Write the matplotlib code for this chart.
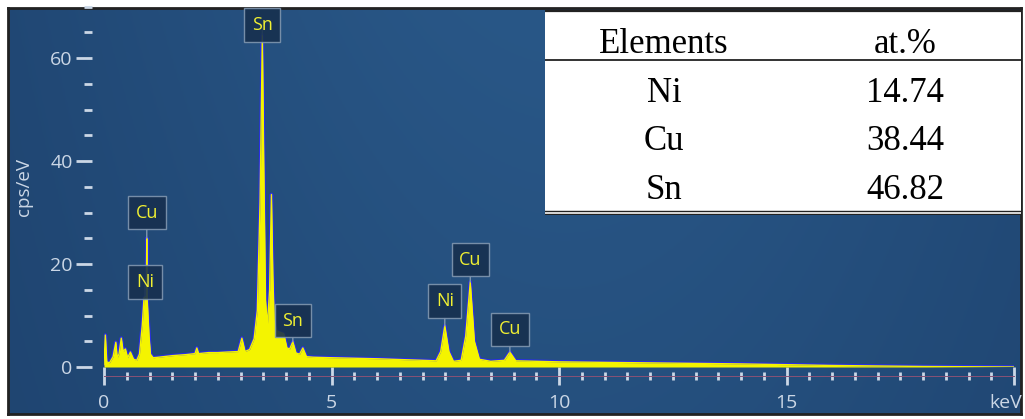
# %%
# =========================
# SETUP
# =========================

import numpy as np
import matplotlib.pyplot as plt
import matplotlib.transforms as mtransforms
from matplotlib.ticker import MultipleLocator, FixedLocator, FixedFormatter

W, H = 1025, 419

# %%
# =========================
# DATI (letti dallo spettro EDS)
# =========================

energy_kev = [
    0.00, 0.03, 0.06, 0.12, 0.20, 0.26, 0.29, 0.33, 0.38, 0.42, 0.47, 0.52,
    0.58, 0.65, 0.72, 0.78, 0.84, 0.88, 0.93, 0.94, 0.95, 0.99, 1.02, 1.08,
    1.20, 1.50, 1.80, 2.00, 2.04, 2.08, 2.30, 2.50, 2.70, 2.95, 3.03, 3.10,
    3.20, 3.30, 3.37, 3.43, 3.48, 3.51, 3.55, 3.59, 3.64, 3.68, 3.71, 3.74,
    3.80, 3.95, 4.02, 4.08, 4.15, 4.22, 4.30, 4.37, 4.45, 4.60, 5.00, 6.00,
    7.00, 7.30, 7.40, 7.49, 7.58, 7.68, 7.85, 7.95, 8.05, 8.14, 8.25, 8.50,
    8.80, 8.92, 9.05, 10.0, 12.0, 14.0, 16.0, 18.0, 20.0,
]
counts_cps = [
    0.5, 6.2, 1.0, 0.8, 2.0, 4.8, 1.8, 2.5, 5.6, 3.0, 3.5, 1.8,
    2.9, 1.5, 1.3, 2.5, 8.0, 13.5, 13.8, 25.0, 13.0, 6.0, 2.5, 1.8,
    1.9, 2.2, 2.4, 2.6, 3.7, 2.6, 2.8, 2.8, 2.9, 3.0, 5.6, 3.0,
    3.4, 5.5, 11.0, 32.0, 64.5, 40.0, 13.0, 8.0, 15.0, 33.5, 18.0, 9.0,
    7.0, 6.5, 3.7, 3.5, 4.9, 2.7, 2.5, 3.7, 2.0, 1.9, 1.8, 1.6,
    1.3, 1.2, 3.0, 8.0, 3.0, 1.1, 1.3, 6.0, 16.5, 5.0, 1.5, 1.1,
    1.3, 2.9, 1.2, 1.0, 0.8, 0.6, 0.3, 0.1, 0.0,
]

# etichette dei picchi: elemento, energia del picco, altezza del picco, altezza etichetta
peak_names = ["Cu", "Ni", "Sn", "Sn", "Ni", "Cu", "Cu"]
peak_kev = [0.94, 0.90, 3.48, 4.15, 7.49, 8.05, 8.92]
peak_top = [25.0, 13.8, 64.5, 4.9, 8.0, 16.5, 2.9]
label_y = [30.0, 16.5, 66.4, 9.0, 12.8, 20.8, 7.3]

# tabella composizione
table_header = ["Elements", "at.%"]
table_elements = ["Ni", "Cu", "Sn"]
table_at_pct = [14.74, 38.44, 46.82]

x_ticks = [0, 5, 10, 15, 20]
x_ticklabels = ["0", "5", "10", "15", "keV"]
y_ticks = [0, 20, 40, 60]

# %%
# =========================
# FIGURA
# =========================

fig = plt.figure(figsize=(W / 100, H / 100), dpi=100)
fig.patch.set_facecolor("white")

# sfondo blu sfumato con cornice scura
bg = fig.add_axes([8 / W, 1 - 414 / H, (1021 - 8) / W, (414 - 8) / H])
gx = np.linspace(0, 1, 300)[None, :]
gy = np.linspace(0, 1, 150)[:, None]
f = np.exp(-((gx - 0.55) / 0.55) ** 2) * (1 - 0.3 * gy)
dark = np.array([0x1c, 0x3f, 0x6a]) / 255
light = np.array([0x29, 0x57, 0x87]) / 255
img = dark[None, None, :] + (light - dark)[None, None, :] * f[:, :, None]
bg.imshow(img, aspect="auto", extent=[0, 1, 0, 1])
bg.set_xticks([])
bg.set_yticks([])
for s in bg.spines.values():
    s.set_color("#222222")
    s.set_linewidth(2)

# %%
# =========================
# SPETTRO
# =========================

ax = fig.add_axes([104 / W, 1 - 367 / H, 910 / W, 360.5 / H])
ax.set_facecolor("none")
ax.set_xlim(0, 20)
ax.set_ylim(0, 70)

ax.plot(energy_kev, counts_cps, color="#2a2ee8", lw=2.6, zorder=2)
ax.fill_between(energy_kev, counts_cps, 0, color="#f4f400", lw=0, zorder=3)
ax.plot(energy_kev, counts_cps, color="#f4f400", lw=1.0, zorder=3)

tick_col = "#cbd7e6"
txt_font = ["Open Sans", "DejaVu Sans"]

for side in ["top", "right"]:
    ax.spines[side].set_visible(False)
ax.spines["left"].set_position(("outward", 8.6))
ax.spines["left"].set_color("none")
ax.spines["bottom"].set_position(("outward", 6.5))
ax.spines["bottom"].set_color("#8a5275")
ax.spines["bottom"].set_linewidth(0.7)

ax.xaxis.set_major_locator(FixedLocator(x_ticks))
ax.xaxis.set_major_formatter(FixedFormatter(x_ticklabels))
ax.xaxis.set_minor_locator(MultipleLocator(0.5))
ax.yaxis.set_major_locator(FixedLocator(y_ticks))
ax.yaxis.set_minor_locator(MultipleLocator(5))

ax.tick_params(axis="x", which="major", direction="inout", length=13.5, width=2,
               color=tick_col, labelcolor=tick_col, labelsize=14, pad=6)
ax.tick_params(axis="x", which="minor", direction="inout", length=6, width=2,
               color=tick_col)
ax.tick_params(axis="y", which="major", direction="out", length=11.5, width=2,
               color=tick_col, labelcolor=tick_col, labelsize=14, pad=2.5)
ax.tick_params(axis="y", which="minor", direction="out", length=5.5, width=2,
               color=tick_col)
for lab in ax.get_xticklabels() + ax.get_yticklabels():
    lab.set_family(txt_font)

# "keV" allineato a destra sul tick finale
kev_lab = ax.get_xticklabels()[-1]
kev_lab.set_ha("right")
kev_lab.set_transform(kev_lab.get_transform() +
                      mtransforms.ScaledTranslation(8 / 100, 0, fig.dpi_scale_trans))

ax.set_ylabel("cps/eV", color=tick_col, fontsize=13.5, family=txt_font, labelpad=12)

# etichette dei picchi
for name, xk, yk, yl in zip(peak_names, peak_kev, peak_top, label_y):
    ax.annotate(name, xy=(xk, yk), xytext=(xk, yl), ha="center", va="center",
                color="#f0f032", fontsize=13, family=txt_font, zorder=5,
                bbox=dict(boxstyle="square,pad=0.42", fc="#17304f", ec="#8197b0",
                          lw=1, alpha=0.9),
                arrowprops=dict(arrowstyle="-", color="#8197b0", lw=1,
                                shrinkA=0, shrinkB=0))

# %%
# =========================
# TABELLA
# =========================

tb = fig.add_axes([545 / W, 1 - 215 / H, (1021 - 545) / W, (215 - 10) / H])
tb.set_xlim(545, 1021)
tb.set_ylim(215, 10)
tb.set_facecolor("white")
tb.set_xticks([])
tb.set_yticks([])
for s in tb.spines.values():
    s.set_visible(False)

tb.axhline(11.5, color="#222222", lw=1.6)
tb.axhline(60, color="#222222", lw=1.3)
tb.axhline(210.5, color="#222222", lw=1.0)
tb.axhline(213.5, color="#222222", lw=1.0)

serif = "Liberation Serif"
col_x = [664, 905]
tb.text(col_x[0], 53, table_header[0], ha="center", va="baseline", fontsize=25, family=serif)
tb.text(col_x[1], 53, table_header[1], ha="center", va="baseline", fontsize=25, family=serif)
row_base = [102, 150, 199]
for el, val, yb in zip(table_elements, table_at_pct, row_base):
    tb.text(col_x[0], yb, el, ha="center", va="baseline", fontsize=25, family=serif)
    tb.text(col_x[1], yb, f"{val:.2f}", ha="center", va="baseline", fontsize=25, family=serif)

fig.savefig("out.png", dpi=100)
